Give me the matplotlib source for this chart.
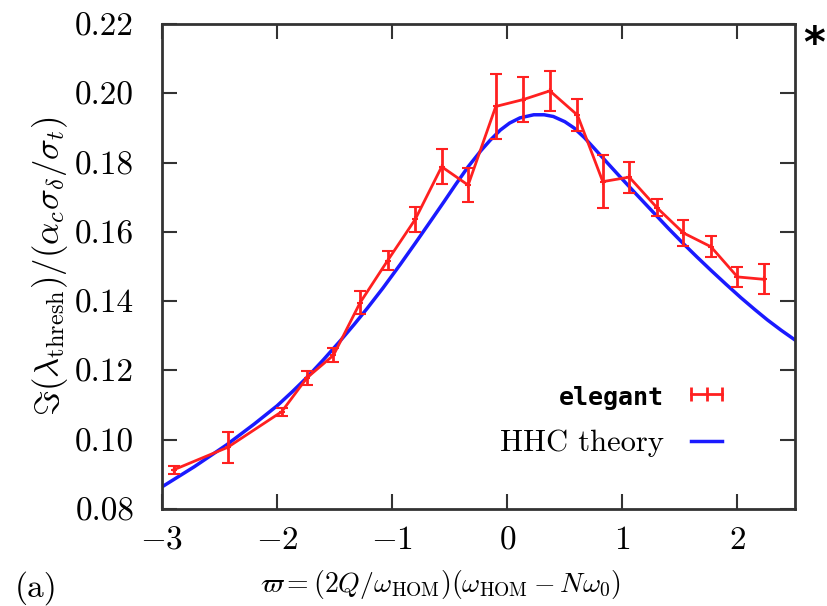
import matplotlib
matplotlib.use("Agg")
import matplotlib.pyplot as plt
from matplotlib.lines import Line2D

# --- data ---
# elegant simulation (points + error bars)
sim_x = [-2.90, -2.43, -1.96, -1.74, -1.51, -1.28, -1.04, -0.80, -0.57, -0.34,
         -0.10, 0.14, 0.37, 0.61, 0.83, 1.06, 1.30, 1.53, 1.77, 2.00, 2.23]
sim_y = [0.0913, 0.0978, 0.1081, 0.1179, 0.1244, 0.1395, 0.1517, 0.1636, 0.1788, 0.1735,
         0.1962, 0.1982, 0.2007, 0.1937, 0.1745, 0.1758, 0.1670, 0.1597, 0.1557, 0.1470, 0.1463]
sim_err = [0.0012, 0.0045, 0.0012, 0.0020, 0.0020, 0.0033, 0.0028, 0.0037, 0.0050, 0.0050,
           0.0095, 0.0065, 0.0058, 0.0047, 0.0077, 0.0045, 0.0025, 0.0037, 0.0030, 0.0028, 0.0043]

# HHC theory curve, sampled along the blue line
theory_x = [-3.00, -2.72, -2.44, -2.20, -2.00, -1.87, -1.74, -1.60, -1.45, -1.33, -1.22,
            -1.08, -0.93, -0.80, -0.66, -0.55, -0.45, -0.34, -0.23, -0.15, -0.06,
            0.02, 0.11, 0.23, 0.32, 0.40, 0.50, 0.58, 0.67, 0.75, 0.87, 0.98,
            1.12, 1.27, 1.40, 1.53, 1.65, 1.77, 1.90, 2.03, 2.15, 2.26, 2.38, 2.50]
theory_y = [0.0864, 0.0922, 0.0985, 0.1045, 0.1098, 0.1138, 0.1180, 0.1230, 0.1286, 0.1333, 0.1378,
            0.1438, 0.1506, 0.1567, 0.1634, 0.1687, 0.1736, 0.1788, 0.1834, 0.1864, 0.1894,
            0.1914, 0.1929, 0.1938, 0.1938, 0.1933, 0.1918, 0.1900, 0.1872, 0.1843, 0.1799, 0.1759,
            0.1709, 0.1656, 0.1610, 0.1566, 0.1527, 0.1489, 0.1449, 0.1410, 0.1376, 0.1346, 0.1316, 0.1288]

x_ticks = [-3, -2, -1, 0, 1, 2]
y_ticks = [0.08, 0.10, 0.12, 0.14, 0.16, 0.18, 0.20, 0.22]

plt.rcParams["font.family"] = "serif"
plt.rcParams["font.serif"] = ["cmr10", "DejaVu Serif"]
plt.rcParams["mathtext.fontset"] = "cm"
plt.rcParams["axes.formatter.use_mathtext"] = True
plt.rcParams["axes.unicode_minus"] = True

fig = plt.figure(figsize=(8.27, 6.06), dpi=100)
ax = fig.add_axes([0.1959, 0.160, 0.7654, 0.8004])

red = "#ff2020"
blue = "#1a1aff"

ax.errorbar(sim_x, sim_y, yerr=sim_err, color=red, lw=2.0, elinewidth=2.0,
            capsize=4, capthick=2.0, marker="+", ms=5, mew=1.5, zorder=3)
ax.plot(theory_x, theory_y, color=blue, lw=2.5, zorder=2)

ax.set_xlim(-3, 2.5)
ax.set_ylim(0.08, 0.22)
ax.set_xticks(x_ticks)
ax.set_yticks(y_ticks)
ax.set_xticklabels([r"$%d$" % v if v >= 0 else r"$-%d$" % -v for v in x_ticks])
ax.set_yticklabels(["%.2f" % v for v in y_ticks])
ax.tick_params(direction="in", length=11, width=1.5, top=True, right=True,
               labelsize=24, colors="#333333", labelcolor="black")
ax.tick_params(axis="x", pad=12)
ax.tick_params(axis="y", pad=20)
for sp in ax.spines.values():
    sp.set_linewidth(2.0)
    sp.set_color("#333333")

ax.set_xlabel(r"$\varpi=(2Q/\omega_{\rm HOM})(\omega_{\rm HOM}-N\omega_0)$",
              fontsize=20)
ax.xaxis.set_label_coords(0.44, -0.122)
ax.set_ylabel(r"$\Im(\lambda_{\rm thresh})/(\alpha_c\sigma_\delta/\sigma_t)$",
              fontsize=25, labelpad=4)

# legend in gnuplot style: text on the left, key on the right
h_sim = Line2D([], [], color=red, lw=2.0, marker="|", ms=10, mew=2.0)
h_th = Line2D([], [], color=blue, lw=2.5)
leg = ax.legend([h_sim, h_th], ["elegant", "HHC theory"], loc="lower right",
                bbox_to_anchor=(0.923, 0.075), frameon=False, markerfirst=False,
                fontsize=22, handlelength=1.6, handletextpad=0.6, numpoints=3,
                labelspacing=0.65, borderpad=0)
leg.get_texts()[0].set_fontfamily("DejaVu Sans Mono")
leg.get_texts()[0].set_fontweight("bold")
leg.get_texts()[0].set_fontsize(18)

fig.text(0.018, 0.015, "(a)", fontsize=24)
fig.text(0.998, 0.925, "*", fontsize=30, fontweight="bold", family="DejaVu Sans",
         ha="right", va="center")

fig.savefig("out.png", dpi=100)
plt.close(fig)
